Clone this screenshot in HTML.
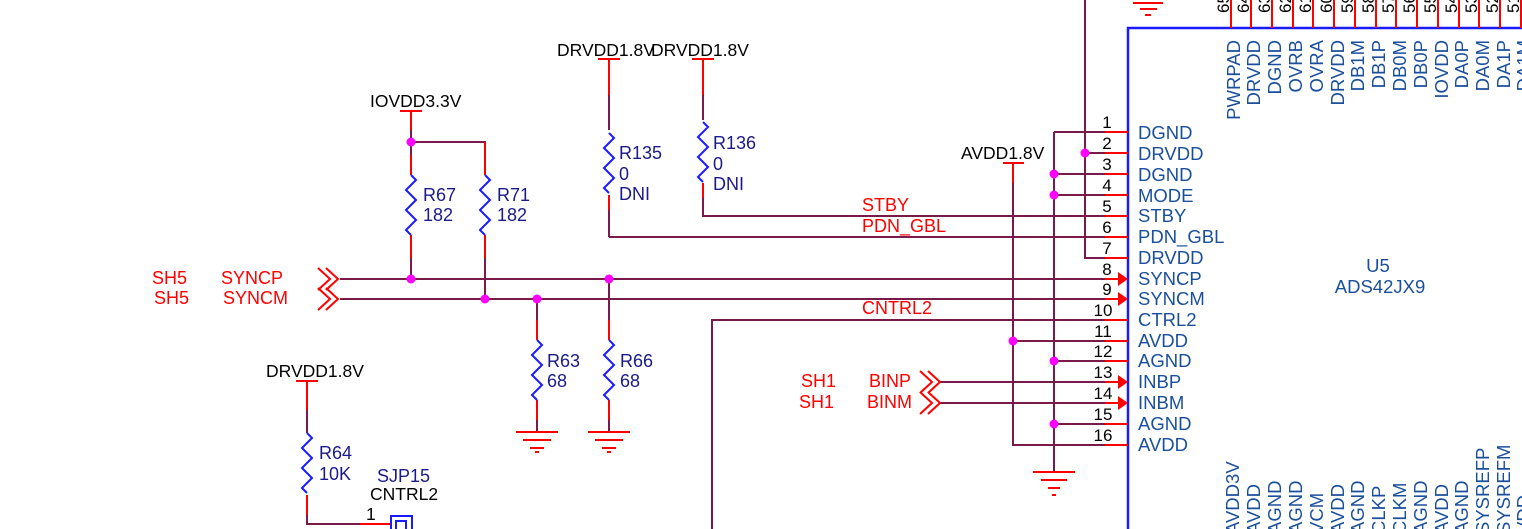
<!DOCTYPE html>
<html><head><meta charset="utf-8"><style>
html,body{margin:0;padding:0;background:#fff;width:1522px;height:529px;overflow:hidden}
svg{display:block}
text{font-family:"Liberation Sans",sans-serif}
.w{stroke:#7a1a4a;stroke-width:2;fill:none}
.r{stroke:#ff0000;stroke-width:2;fill:none}
.b{stroke:#1a1aff;stroke-width:2;fill:none}
.dot{fill:#ff00ff}
.lbl{fill:#000;font-size:17.5px}
.rl{fill:#ff0000;font-size:18px}
.rv{fill:#1a1a8a;font-size:18px}
.pn{fill:#1a4f9c;font-size:18.5px}
.num{fill:#000;font-size:17px}
</style></head><body>
<svg width="1522" height="529" viewBox="0 0 1522 529" xmlns="http://www.w3.org/2000/svg">
<path d="M1128 529 V28 H1522" stroke="#1a1aff" stroke-width="2.5" fill="none"/>
<text x="1378" y="272" class="pn" text-anchor="middle">U5</text>
<text x="1380" y="293" class="pn" text-anchor="middle">ADS42JX9</text>

<path class="r" d="M1133 3H1163M1140 9H1157M1145 15H1151"/>

<g class="r">
<path d="M1231 0V28M1251 0V28M1272 0V28M1293 0V28M1313 0V28M1334 0V28M1355 0V28M1376 0V28M1396 0V28M1417 0V28M1438 0V28M1459 0V28M1479 0V28M1500 0V28M1521 0V28"/>
</g>
<g class="num" font-size="16">
<text transform="translate(1229,13) rotate(-90)">65</text>
<text transform="translate(1249,13) rotate(-90)">64</text>
<text transform="translate(1270,13) rotate(-90)">63</text>
<text transform="translate(1291,13) rotate(-90)">62</text>
<text transform="translate(1311,13) rotate(-90)">61</text>
<text transform="translate(1332,13) rotate(-90)">60</text>
<text transform="translate(1353,13) rotate(-90)">59</text>
<text transform="translate(1374,13) rotate(-90)">58</text>
<text transform="translate(1394,13) rotate(-90)">57</text>
<text transform="translate(1415,13) rotate(-90)">56</text>
<text transform="translate(1436,13) rotate(-90)">55</text>
<text transform="translate(1457,13) rotate(-90)">54</text>
<text transform="translate(1477,13) rotate(-90)">53</text>
<text transform="translate(1498,13) rotate(-90)">52</text>
<text transform="translate(1519,13) rotate(-90)">51</text>
</g>
<g class="pn" text-anchor="end">
<text transform="translate(1240,40) rotate(-90)">PWRPAD</text>
<text transform="translate(1260,40) rotate(-90)">DRVDD</text>
<text transform="translate(1281,40) rotate(-90)">DGND</text>
<text transform="translate(1302,40) rotate(-90)">OVRB</text>
<text transform="translate(1323,40) rotate(-90)">OVRA</text>
<text transform="translate(1344,40) rotate(-90)">DRVDD</text>
<text transform="translate(1364,40) rotate(-90)">DB1M</text>
<text transform="translate(1385,40) rotate(-90)">DB1P</text>
<text transform="translate(1406,40) rotate(-90)">DB0M</text>
<text transform="translate(1427,40) rotate(-90)">DB0P</text>
<text transform="translate(1448,40) rotate(-90)">IOVDD</text>
<text transform="translate(1468,40) rotate(-90)">DA0P</text>
<text transform="translate(1489,40) rotate(-90)">DA0M</text>
<text transform="translate(1510,40) rotate(-90)">DA1P</text>
<text transform="translate(1530,40) rotate(-90)">DA1M</text>
</g>
<g class="pn">
<text transform="translate(1239,534) rotate(-90)">AVDD3V</text>
<text transform="translate(1260,534) rotate(-90)">AVDD</text>
<text transform="translate(1281,534) rotate(-90)">AGND</text>
<text transform="translate(1302,534) rotate(-90)">AGND</text>
<text transform="translate(1323,534) rotate(-90)">VCM</text>
<text transform="translate(1344,534) rotate(-90)">AVDD</text>
<text transform="translate(1364,534) rotate(-90)">AGND</text>
<text transform="translate(1385,534) rotate(-90)">CLKP</text>
<text transform="translate(1406,534) rotate(-90)">CLKM</text>
<text transform="translate(1427,534) rotate(-90)">AGND</text>
<text transform="translate(1448,534) rotate(-90)">AVDD</text>
<text transform="translate(1468,534) rotate(-90)">AGND</text>
<text transform="translate(1489,534) rotate(-90)">SYSREFP</text>
<text transform="translate(1510,534) rotate(-90)">SYSREFM</text>
<text transform="translate(1530,534) rotate(-90)">VDD</text>
</g>

<g class="w">
<path d="M1085 0V258H1105"/>
<path d="M1085 153H1105"/>
<path d="M1054 132H1105M1054 132V472"/>
<path d="M1054 174H1105M1054 195H1105M1054 361H1105M1054 424H1105"/>
<path d="M1013 170V445H1105M1013 341H1105"/>
<path d="M703 215V216H1105M609 237H1105"/>
<path d="M703 75V120M703 186V216"/>
<path d="M609 75V130M609 198V237"/>
<path d="M340 279H1105M340 299H1105"/>
<path d="M712 529V320H1105"/>
<path d="M940 382H1105M940 403H1105"/>
<path d="M411 142H485V175M411 142V175M411 240V279M485 240V299"/>
<path d="M411 120V142"/>
<path d="M537 299V340M537 400V432M609 279V340M609 400V432"/>
<path d="M307 395V433M307 495V524H390"/>
</g>
<g class="r">
<path d="M1105 132H1128M1105 153H1128M1105 174H1128M1105 195H1128M1105 216H1128M1105 237H1128M1105 258H1128M1105 279H1120M1105 299H1120M1105 320H1128M1105 341H1128M1105 361H1128M1105 382H1120M1105 403H1120M1105 424H1128M1105 445H1128"/>
<path d="M1003 163H1024M1013 163V183"/>
<path d="M598 59H620M609 59V95M609 195V210"/>
<path d="M692 59H714M703 59V95M703 183V198"/>
<path d="M400 111H422M411 111V130M411 155V175M411 235V258M485 142V175M485 235V258"/>
<path d="M537 320V340M537 400V420M609 320V340M609 400V420"/>
<path d="M296 381H318M307 381V410M307 495V515M360 524H390"/>
<path d="M1033 472H1075M1041 480H1067M1048 488H1060M1052 495H1056"/>
<path d="M516 432H558M523 440H551M530 448H544M535 452H539"/>
<path d="M588 432H630M595 440H623M602 448H616M607 452H611"/>
<path d="M318 268L330 279L318 290M326 268L338 279L326 290"/>
<path d="M318 288L330 299L318 310M326 288L338 299L326 310"/>
<path d="M920 371L932 382L920 393M928 371L940 382L928 393"/>
<path d="M920 392L932 403L920 414M928 392L940 403L928 414"/>
</g>
<g fill="#ff0000">
<path d="M1118 272L1128 279L1118 286Z"/>
<path d="M1118 292L1128 299L1118 306Z"/>
<path d="M1118 375L1128 382L1118 389Z"/>
<path d="M1118 396L1128 403L1118 410Z"/>
</g>

<g class="b">
<path d="M411 175l5 5l-10 10l10 10l-10 10l10 10l-10 10l5 5"/>
<path d="M485 175l5 5l-10 10l10 10l-10 10l10 10l-10 10l5 5"/>
<path d="M609 133l5 5l-10 10l10 10l-10 10l10 10l-10 10l5 5"/>
<path d="M703 122l5 5l-10 10l10 10l-10 10l10 10l-10 10l5 5"/>
<path d="M537 340l5 5l-10 10l10 10l-10 10l10 10l-10 10l5 5"/>
<path d="M609 340l5 5l-10 10l10 10l-10 10l10 10l-10 10l5 5"/>
<path d="M307 433l5 5l-10 10l10 10l-10 10l10 10l-10 10l5 5"/>
<rect x="391" y="516" width="21" height="20"/>
<rect x="396" y="521" width="10" height="12"/>
</g>

<g class="dot">
<circle cx="1085" cy="153" r="4.5"/>
<circle cx="1054" cy="174" r="4.5"/>
<circle cx="1054" cy="195" r="4.5"/>
<circle cx="1054" cy="361" r="4.5"/>
<circle cx="1054" cy="424" r="4.5"/>
<circle cx="1013" cy="341" r="4.5"/>
<circle cx="411" cy="142" r="4.5"/>
<circle cx="411" cy="279" r="4.5"/>
<circle cx="609" cy="279" r="4.5"/>
<circle cx="485" cy="299" r="4.5"/>
<circle cx="537" cy="299" r="4.5"/>
</g>

<g class="num" text-anchor="middle">
<text x="1107" y="128">1</text><text x="1107" y="149">2</text><text x="1107" y="170">3</text><text x="1107" y="191">4</text>
<text x="1107" y="212">5</text><text x="1107" y="233">6</text><text x="1107" y="254">7</text><text x="1107" y="275">8</text>
<text x="1107" y="295">9</text><text x="1103" y="316">10</text><text x="1103" y="337">11</text><text x="1103" y="357">12</text>
<text x="1103" y="378">13</text><text x="1103" y="399">14</text><text x="1103" y="420">15</text><text x="1103" y="441">16</text>
</g>
<g class="pn">
<text x="1138" y="139">DGND</text><text x="1138" y="160">DRVDD</text><text x="1138" y="181">DGND</text><text x="1138" y="202">MODE</text>
<text x="1138" y="222">STBY</text><text x="1138" y="243">PDN_GBL</text><text x="1138" y="264">DRVDD</text><text x="1138" y="285">SYNCP</text>
<text x="1138" y="305">SYNCM</text><text x="1138" y="326">CTRL2</text><text x="1138" y="347">AVDD</text><text x="1138" y="367">AGND</text>
<text x="1138" y="388">INBP</text><text x="1138" y="409">INBM</text><text x="1138" y="430">AGND</text><text x="1138" y="451">AVDD</text>
</g>

<g class="lbl">
<text x="961" y="159">AVDD1.8V</text>
<text x="557" y="56">DRVDD1.8V</text>
<text x="651" y="56">DRVDD1.8V</text>
<text x="370" y="107">IOVDD3.3V</text>
<text x="266" y="377">DRVDD1.8V</text>
</g>
<g class="rl">
<text x="862" y="211">STBY</text>
<text x="862" y="232">PDN_GBL</text>
<text x="862" y="314">CNTRL2</text>
<text x="152" y="284">SH5</text><text x="221" y="284">SYNCP</text>
<text x="154" y="304">SH5</text><text x="223" y="304">SYNCM</text>
<text x="801" y="387">SH1</text><text x="869" y="387">BINP</text>
<text x="799" y="408">SH1</text><text x="867" y="408">BINM</text>
</g>
<g class="rv">
<text x="423" y="201">R67</text><text x="423" y="221">182</text>
<text x="497" y="201">R71</text><text x="497" y="221">182</text>
<text x="619" y="159">R135</text><text x="619" y="180">0</text><text x="619" y="200">DNI</text>
<text x="713" y="149">R136</text><text x="713" y="170">0</text><text x="713" y="190">DNI</text>
<text x="547" y="367">R63</text><text x="547" y="387">68</text>
<text x="620" y="367">R66</text><text x="620" y="387">68</text>
<text x="319" y="459">R64</text><text x="319" y="480">10K</text>
<text x="377" y="482">SJP15</text>
</g>
<text x="370" y="500" class="lbl">CNTRL2</text>
<text x="366" y="520" class="lbl">1</text>
</svg>
</body></html>
